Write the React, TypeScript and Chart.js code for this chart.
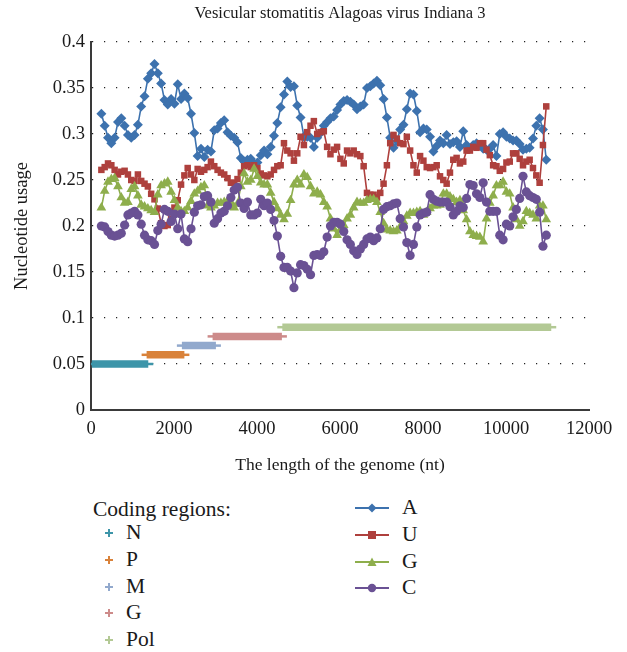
import React, { useEffect, useRef } from "react";
import { Chart, registerables } from "chart.js";
Chart.register(...registerables);

const TITLE = "Vesicular stomatitis Alagoas virus Indiana 3";
const X_TITLE = "The length of the genome (nt)";
const Y_TITLE = "Nucleotide usage";

// genome positions (nt) of the sliding-window points
const positions = [250,330,410,490,570,650,730,810,890,970,1050,1130,1210,1290,1370,1450,1530,1610,1690,1770,1850,1930,2010,2090,2170,2250,2330,2410,2490,2570,2650,2730,2810,2890,2970,3050,3130,3210,3290,3370,3450,3530,3610,3690,3770,3850,3930,4010,4090,4170,4250,4330,4410,4490,4570,4650,4730,4810,4890,4970,5050,5130,5210,5290,5370,5450,5530,5610,5690,5770,5850,5930,6010,6090,6170,6250,6330,6410,6490,6570,6650,6730,6810,6890,6970,7050,7130,7210,7290,7370,7450,7530,7610,7690,7770,7850,7930,8010,8090,8170,8250,8330,8410,8490,8570,8650,8730,8810,8890,8970,9050,9130,9210,9290,9370,9450,9530,9610,9690,9770,9850,9930,10010,10090,10170,10250,10330,10410,10490,10570,10650,10730,10810,10890,10970];

const usageA = [.322,.309,.296,.29,.296,.313,.317,.309,.299,.296,.299,.31,.33,.341,.36,.366,.376,.366,.355,.337,.332,.338,.333,.354,.338,.344,.339,.322,.301,.276,.284,.275,.283,.281,.304,.306,.312,.315,.302,.298,.296,.291,.274,.27,.272,.273,.268,.269,.277,.282,.278,.286,.298,.312,.329,.343,.357,.351,.352,.331,.318,.297,.297,.296,.286,.296,.301,.309,.313,.317,.319,.326,.332,.336,.337,.335,.332,.327,.33,.332,.35,.352,.355,.358,.353,.338,.318,.296,.285,.292,.305,.31,.327,.344,.343,.325,.302,.306,.305,.297,.281,.287,.293,.29,.299,.289,.291,.292,.286,.303,.288,.284,.288,.29,.288,.284,.283,.284,.288,.276,.3,.302,.297,.295,.293,.293,.289,.283,.284,.285,.295,.309,.317,.305,.272];
const usageU = [.261,.264,.268,.266,.261,.256,.259,.26,.256,.25,.249,.256,.249,.246,.243,.235,.229,.219,.203,.2,.201,.208,.22,.228,.245,.255,.263,.256,.25,.262,.259,.261,.264,.27,.265,.261,.258,.256,.252,.247,.247,.251,.258,.265,.266,.264,.266,.263,.257,.255,.254,.256,.261,.265,.266,.29,.282,.279,.271,.279,.297,.288,.302,.309,.314,.3,.302,.303,.286,.278,.283,.286,.273,.268,.282,.279,.282,.278,.276,.265,.236,.234,.234,.231,.236,.246,.266,.29,.299,.295,.29,.289,.297,.282,.266,.258,.276,.271,.264,.263,.264,.266,.254,.25,.246,.258,.272,.274,.268,.27,.282,.282,.286,.285,.29,.29,.283,.277,.266,.265,.26,.262,.269,.27,.279,.279,.273,.266,.27,.272,.263,.255,.247,.288,.33];
const usageG = [.22,.238,.248,.251,.252,.243,.231,.225,.226,.24,.243,.233,.223,.221,.219,.217,.215,.234,.244,.246,.248,.237,.228,.22,.216,.216,.22,.227,.235,.238,.242,.244,.222,.22,.222,.225,.225,.226,.227,.226,.22,.224,.243,.257,.248,.25,.262,.254,.247,.245,.245,.236,.226,.219,.212,.207,.213,.228,.245,.25,.245,.256,.253,.243,.235,.237,.234,.226,.221,.208,.197,.19,.196,.201,.208,.212,.22,.226,.225,.225,.228,.229,.229,.226,.215,.203,.196,.195,.194,.195,.199,.205,.211,.214,.214,.215,.216,.212,.215,.219,.222,.222,.223,.235,.235,.232,.229,.226,.228,.217,.207,.194,.19,.189,.188,.183,.208,.225,.233,.244,.244,.248,.237,.235,.22,.207,.2,.205,.216,.214,.212,.208,.222,.222,.207];
const usageC = [.2,.199,.194,.19,.189,.19,.192,.201,.212,.214,.216,.212,.202,.19,.185,.184,.18,.195,.202,.218,.216,.205,.213,.197,.213,.186,.183,.197,.215,.222,.223,.232,.233,.226,.203,.208,.214,.216,.222,.231,.239,.242,.225,.219,.226,.212,.212,.214,.229,.222,.225,.218,.206,.189,.167,.155,.155,.151,.133,.149,.158,.157,.153,.147,.168,.169,.168,.172,.188,.2,.204,.204,.202,.194,.185,.18,.173,.169,.175,.18,.186,.188,.184,.187,.197,.218,.221,.222,.224,.225,.208,.199,.182,.168,.18,.199,.212,.214,.215,.234,.229,.227,.226,.226,.226,.221,.212,.216,.222,.22,.23,.245,.244,.235,.231,.247,.226,.216,.216,.216,.19,.185,.202,.2,.21,.218,.23,.254,.237,.233,.231,.229,.215,.178,.19];

const seriesNames = ["A", "U", "G", "C"];
const seriesColors = ["#3d72ae", "#ae403d", "#8eae4c", "#6a5194"];

const regionNames = ["N", "P", "M", "G", "Pol"];
const regionStart = [20, 1340, 2190, 2930, 4610];
const regionEnd = [1380, 2250, 3010, 4600, 11090];
const regionLevel = [0.05, 0.06, 0.07, 0.08, 0.09];
const regionColors = ["#3d95a9", "#d9823a", "#92a9cd", "#cd8b8a", "#b3c995"];

const xTicks = [0, 2000, 4000, 6000, 8000, 10000, 12000];
const yTicks = [0, 0.05, 0.1, 0.15, 0.2, 0.25, 0.3, 0.35, 0.4];

const FONT = "'Liberation Serif', 'DejaVu Serif', serif";
const TEXT = "#1a1a1a";

function RegionIcon({ color }: { color: string }) {
  return (
    <svg width="10" height="10" style={{ display: "block" }}>
      <line x1="1" y1="5" x2="9" y2="5" stroke={color} strokeWidth="2" />
      <line x1="5" y1="1" x2="5" y2="9" stroke={color} strokeWidth="2" />
    </svg>
  );
}

function SeriesIcon({ color, kind }: { color: string; kind: number }) {
  let marker: any = null;
  if (kind === 0) marker = <polygon points="17,1.5 21.5,6 17,10.5 12.5,6" fill={color} />;
  if (kind === 1) marker = <rect x="13" y="2" width="8" height="8" fill={color} />;
  if (kind === 2) marker = <polygon points="17,1.5 21.5,10 12.5,10" fill={color} />;
  if (kind === 3) marker = <circle cx="17" cy="6" r="4.2" fill={color} />;
  return (
    <svg width="34" height="12" style={{ display: "block" }}>
      <line x1="0" y1="6" x2="34" y2="6" stroke={color} strokeWidth="1.8" />
      {marker}
    </svg>
  );
}

export default function App() {
  const ref = useRef<HTMLCanvasElement | null>(null);

  useEffect(() => {
    if (!ref.current) return;
    const values = [usageA, usageU, usageG, usageC];
    const styles = ["rectRot", "rect", "triangle", "circle"];
    const radii = [5, 4.6, 5.6, 4.6];
    const seriesSets = values.map((vals, k) => ({
      label: seriesNames[k],
      data: vals.map((v, i) => ({ x: positions[i], y: v })),
      borderColor: seriesColors[k],
      backgroundColor: seriesColors[k],
      borderWidth: 1.6,
      pointStyle: styles[k],
      pointRadius: radii[k],
      pointBorderWidth: 0,
      pointBackgroundColor: seriesColors[k],
      order: 4 - k,
    }));
    const regionSets = regionNames.map((name, k) => ({
      label: name,
      data: [
        { x: regionStart[k], y: regionLevel[k] },
        { x: regionEnd[k], y: regionLevel[k] },
      ],
      borderColor: regionColors[k],
      backgroundColor: regionColors[k],
      borderWidth: 7.5,
      borderCapStyle: "butt",
      pointStyle: "line",
      pointRadius: 5,
      pointBorderWidth: 2.5,
      pointBorderColor: regionColors[k],
      order: 10 + k,
    }));

    const chart = new Chart(ref.current, {
      type: "line",
      data: { datasets: [...regionSets, ...seriesSets] as any },
      options: {
        animation: false,
        responsive: false,
        maintainAspectRatio: false,
        layout: { padding: { left: 0, right: 38, top: 0, bottom: 0 } },
        plugins: {
          legend: { display: false },
          tooltip: { enabled: false },
          title: {
            display: true,
            text: TITLE,
            fullSize: false,
            color: TEXT,
            font: { family: FONT, size: 16.5, weight: "normal" },
            padding: { top: 4, bottom: 18.2 },
          },
        },
        scales: {
          x: {
            type: "linear",
            min: 0,
            max: 12000,
            afterBuildTicks: (s: any) => {
              s.ticks = xTicks.map((v) => ({ value: v }));
            },
            afterFit: (s: any) => {
              s.height = 70;
            },
            ticks: {
              callback: (v: any) => String(v),
              color: TEXT,
              font: { family: FONT, size: 18.5 },
              padding: 8,
              maxRotation: 0,
            },
            grid: { display: false, drawTicks: false },
            border: { display: true, color: "#3a3a3a", width: 2 },
            title: {
              display: true,
              text: X_TITLE,
              color: TEXT,
              font: { family: FONT, size: 17.5 },
              padding: { top: 0, bottom: 4.5 },
            },
          },
          y: {
            type: "linear",
            min: 0,
            max: 0.4,
            afterBuildTicks: (s: any) => {
              s.ticks = yTicks.map((v) => ({ value: v }));
            },
            afterFit: (s: any) => {
              s.width = 91;
            },
            ticks: {
              callback: (v: any) => String(Math.round(v * 100) / 100),
              color: TEXT,
              font: { family: FONT, size: 18.5 },
              padding: 6,
            },
            grid: { color: "#222", lineWidth: 1.2, drawTicks: false },
            border: { display: true, color: "#3a3a3a", width: 2, dash: [1.2, 10.8] },
            title: {
              display: true,
              text: Y_TITLE,
              color: TEXT,
              font: { family: FONT, size: 18.5 },
              padding: { top: 11, bottom: 0 },
            },
          },
        },
      } as any,
    });
    return () => chart.destroy();
  }, []);

  const rowL = [533, 560, 587, 613, 640];
  const rowR = [508, 535, 562, 588];
  const fs = 21.5;

  return (
    <div style={{ position: "absolute", left: 0, top: 0, width: 627, height: 652, background: "#fff", fontFamily: FONT, color: TEXT }}>
      <canvas ref={ref} width={627} height={480} style={{ position: "absolute", left: 0, top: 0, width: 627, height: 480 }} />
      <div style={{ position: "absolute", left: 93, top: 510 - fs / 2, fontSize: fs, lineHeight: `${fs}px`, whiteSpace: "nowrap" }}>
        Coding regions:
      </div>
      {regionNames.map((n, k) => (
        <React.Fragment key={n}>
          <div style={{ position: "absolute", left: 104, top: rowL[k] - 5 }}>
            <RegionIcon color={regionColors[k]} />
          </div>
          <div style={{ position: "absolute", left: 126, top: rowL[k] - fs / 2, fontSize: fs, lineHeight: `${fs}px`, whiteSpace: "nowrap" }}>{n}</div>
        </React.Fragment>
      ))}
      {seriesNames.map((n, k) => (
        <React.Fragment key={n}>
          <div style={{ position: "absolute", left: 355, top: rowR[k] - 6 }}>
            <SeriesIcon color={seriesColors[k]} kind={k} />
          </div>
          <div style={{ position: "absolute", left: 402, top: rowR[k] - fs / 2, fontSize: fs, lineHeight: `${fs}px`, whiteSpace: "nowrap" }}>{n}</div>
        </React.Fragment>
      ))}
    </div>
  );
}
